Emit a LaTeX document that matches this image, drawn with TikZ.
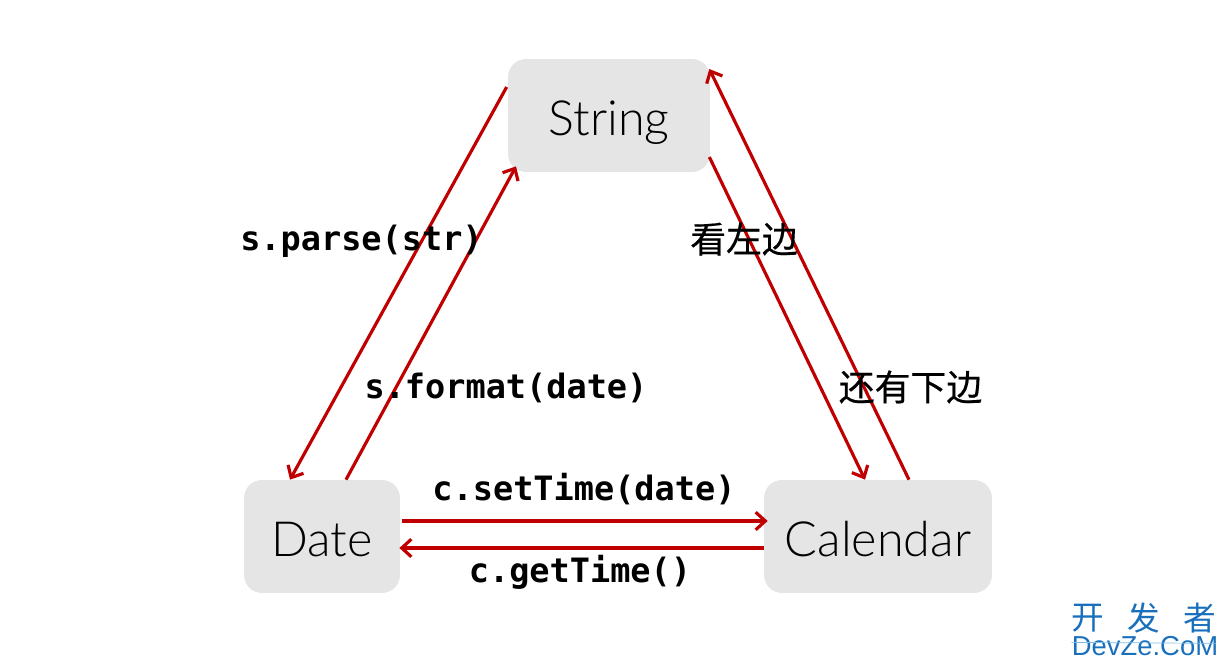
\documentclass[tikz,border=0pt]{standalone}
\usepackage{fontspec}
\setmainfont{Lato Light}
\newfontfamily\codefont{DejaVu Sans Mono}
\newfontfamily\cjkfont[FakeBold=0.4]{Noto Sans CJK SC}
\newfontfamily\sitecjk{Noto Sans CJK SC}
\newfontfamily\sitefont{Liberation Sans}
\usepackage{xcolor}
\usepackage{tikz}
\usetikzlibrary{arrows.meta,positioning}
\definecolor{arrowred}{HTML}{C00000}
\definecolor{boxgray}{HTML}{E5E5E5}
\definecolor{siteblue}{HTML}{1A6FBD}
\definecolor{siteline}{HTML}{7DBDE8}
\tikzset{
  classbox/.style={fill=boxgray, rounded corners=0.36cm, minimum height=2.26cm, inner sep=0pt, text height=0.98cm, text depth=0.19cm, font=\fontsize{27.6}{27.6}\selectfont, text=black},
  link/.style={draw=arrowred, line width=1.8pt, -{Straight Barb[length=5.5pt,width=10pt,line width=1.8pt]}},
  codelabel/.style={inner sep=0pt, font=\codefont\bfseries\fontsize{19.1}{19.1}\selectfont},
  cjklabel/.style={inner sep=0pt, font=\cjkfont\fontsize{20.4}{20.4}\selectfont},
  sitecn/.style={inner sep=0pt, text=siteblue, font=\sitecjk\fontsize{18.6}{18.6}\selectfont},
  siteen/.style={inner sep=0pt, text=siteblue, font=\sitefont\fontsize{15.6}{15.6}\selectfont}
}

\begin{document}
\begin{tikzpicture}[x=0.02cm, y=-0.02cm]
\useasboundingbox (0, 0) rectangle (1228, 668);

\node[classbox, minimum width=4.04cm] (string) at (609, 115.5) {String};
\node[classbox, minimum width=3.12cm] (date) at (322, 536.5) {Date};
\node[classbox, minimum width=4.56cm] (calendar) at (878, 536.5) {Calendar};

\draw[link] ([xshift=-0.02cm, yshift=0.57cm]string.west) -- ([xshift=-0.64cm]date.north);
\draw[link] ([xshift=0.48cm]date.north) -- ([xshift=-1.86cm, yshift=0.12cm]string.south);
\draw[link] ([xshift=-0.02cm, yshift=-0.83cm]string.east) -- ([xshift=-0.26cm]calendar.north);
\draw[link] ([xshift=0.62cm]calendar.north) -- ([xshift=-0.02cm, yshift=0.93cm]string.east);
\draw[link] ([xshift=0.04cm, yshift=0.31cm]date.east) -- ([xshift=0.08cm, yshift=0.31cm]calendar.west);
\draw[link] ([yshift=-0.23cm]calendar.west) -- ([xshift=-0.02cm, yshift=-0.23cm]date.east);

\node[codelabel] (parse) at (361.5, 241) {s.parse(str)};
\node[codelabel] (format) at (506, 388) {s.format(date)};
\node[codelabel] (settime) at (584, 489.5) {c.setTime(date)};
\node[codelabel] (gettime) at (580, 572.5) {c.getTime()};
\node[cjklabel] (lookleft) at (744, 239) {看左边};
\node[cjklabel] (lookdown) at (910.5, 387) {还有下边};

\node[sitecn] (sitekai) at (1088, 618) {开};
\node[sitecn] (sitefa) at (1143.5, 618) {发};
\node[sitecn] (sitezhe) at (1199.5, 618) {者};
\node[siteen] (sitename) at (1145, 646) {DevZe.CoM};
\draw[siteline, line width=0.4pt] ([yshift=-0.2cm]sitekai.south west) -- ([yshift=-0.2cm]sitezhe.south east);
\end{tikzpicture}
\end{document}
